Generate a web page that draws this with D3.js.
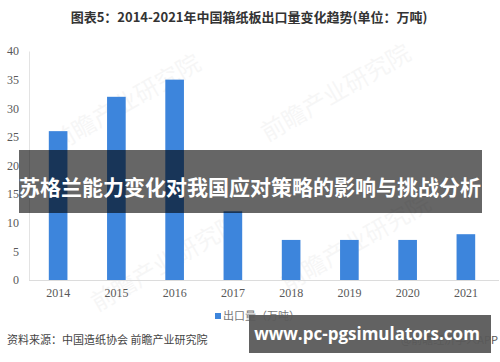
<!DOCTYPE html>
<html>
<head>
<meta charset="utf-8">
<script src="https://cdn.jsdelivr.net/npm/d3@7"></script>
<style>
  body { margin: 0; background: #fff; }
  svg { display: block; }
</style>
</head>
<body>
<div id="chart"></div>
<script>
// data
var years = ['2014', '2015', '2016', '2017', '2018', '2019', '2020', '2021'];
var exports = [26, 32, 35, 12, 7, 7, 7, 8];
var yTicks = [0, 5, 10, 15, 20, 25, 30, 35, 40];

var titleText = '图表5：2014-2021年中国箱纸板出口量变化趋势(单位：万吨)';
var legendText = '出口量（万吨）';
var sourceText = '资料来源：中国造纸协会 前瞻产业研究院';
var bannerText = '苏格兰能力变化对我国应对策略的影响与挑战分析';
var siteText = 'www.pc-pgsimulators.com';

var width = 500, height = 362;
var margins = { top: 51, right: 5, bottom: 82, left: 29 };
var chartWidth = width - margins.left - margins.right;
var chartHeight = height - margins.top - margins.bottom;

var blue = '#3d85dc';
var serif = '"Liberation Serif", "DejaVu Serif", serif';
var sans = '"Noto Sans CJK SC", "Noto Sans", sans-serif';

var container = d3.select('#chart').append('svg')
  .attr('width', width)
  .attr('height', height)
  .attr('viewBox', `0 0 ${width} ${height}`);

// title
container.append('text')
  .attr('x', 249)
  .attr('y', 22)
  .attr('text-anchor', 'middle')
  .style('font-family', sans)
  .style('font-size', '13px')
  .style('font-weight', 'bold')
  .style('fill', '#333')
  .text(titleText);

// faint watermarks (kept well inside the frame)
[[130, 110], [340, 100], [170, 270], [360, 250]].forEach(function(p) {
  container.append('text')
    .attr('transform', `translate(${p[0]},${p[1]}) rotate(-30)`)
    .attr('text-anchor', 'middle')
    .style('font-family', sans)
    .style('font-size', '24px')
    .style('fill', '#000')
    .style('opacity', 0.03)
    .text('前瞻产业研究院');
});

var svg = container.append('g')
  .attr('transform', `translate(${margins.left},${margins.top})`);

var xScale = d3.scaleBand()
  .domain(years)
  .range([0, chartWidth])
  .paddingInner(0.68)
  .paddingOuter(0.34);

var yScale = d3.scaleLinear()
  .domain([0, 40])
  .range([chartHeight, 0]);

// y axis
var yAxis = d3.axisLeft(yScale)
  .tickValues(yTicks)
  .tickSize(0)
  .tickPadding(10);

var gy = svg.append('g').call(yAxis);
gy.select('.domain').attr('stroke', '#e3e3e3');
gy.selectAll('text')
  .style('font-family', serif)
  .style('font-size', '12px')
  .style('fill', '#595959');

// x axis
var xAxis = d3.axisBottom(xScale)
  .tickSize(0)
  .tickPadding(8);

var gx = svg.append('g')
  .attr('transform', `translate(0,${chartHeight})`)
  .call(xAxis);
gx.select('.domain').attr('stroke', '#dcdcdc').attr('d', `M0,0.5H${chartWidth + 4}`);
gx.selectAll('text')
  .style('font-family', serif)
  .style('font-size', '12px')
  .style('fill', '#595959');

// bars
svg.selectAll('.bar')
  .data(exports)
  .enter().append('rect')
  .attr('class', 'bar')
  .attr('x', function(d, i) { return xScale(years[i]); })
  .attr('y', function(d) { return yScale(d); })
  .attr('width', xScale.bandwidth())
  .attr('height', function(d) { return chartHeight - yScale(d); })
  .attr('fill', blue);

// legend
var legend = container.append('g').attr('transform', 'translate(215,316)');
legend.append('rect')
  .attr('x', 0).attr('y', -3)
  .attr('width', 6).attr('height', 6)
  .attr('fill', blue);
legend.append('text')
  .attr('x', 8).attr('y', 4)
  .style('font-family', sans)
  .style('font-size', '11px')
  .style('fill', '#777')
  .text(legendText);

// source line
container.append('text')
  .attr('x', 7).attr('y', 344)
  .style('font-family', sans)
  .style('font-size', '11px')
  .style('fill', '#444')
  .text(sourceText);

container.append('text')
  .attr('x', 498).attr('y', 344)
  .attr('text-anchor', 'end')
  .style('font-family', sans)
  .style('font-size', '11px')
  .style('fill', '#555')
  .text('@前瞻经济学人APP');

// overlay banner across the chart
container.append('rect')
  .attr('x', 19).attr('y', 150)
  .attr('width', 463).attr('height', 63)
  .attr('fill', '#000')
  .attr('fill-opacity', 0.6);
container.append('text')
  .attr('x', 250).attr('y', 189)
  .attr('text-anchor', 'middle')
  .attr('dominant-baseline', 'middle')
  .style('font-family', sans)
  .style('font-size', '21px')
  .style('font-weight', 'bold')
  .style('fill', '#fff')
  .text(bannerText);

// site box bottom right
container.append('rect')
  .attr('x', 249).attr('y', 315)
  .attr('width', 242).attr('height', 38)
  .attr('fill', '#5a5a5a')
  .attr('fill-opacity', 0.95);
container.append('text')
  .attr('x', 367).attr('y', 335)
  .attr('text-anchor', 'middle')
  .attr('dominant-baseline', 'middle')
  .style('font-family', '"Open Sans", "DejaVu Sans", sans-serif')
  .style('font-size', '17px')
  .style('font-weight', 'bold')
  .style('fill', '#fff')
  .text(siteText);
</script>
</body>
</html>
